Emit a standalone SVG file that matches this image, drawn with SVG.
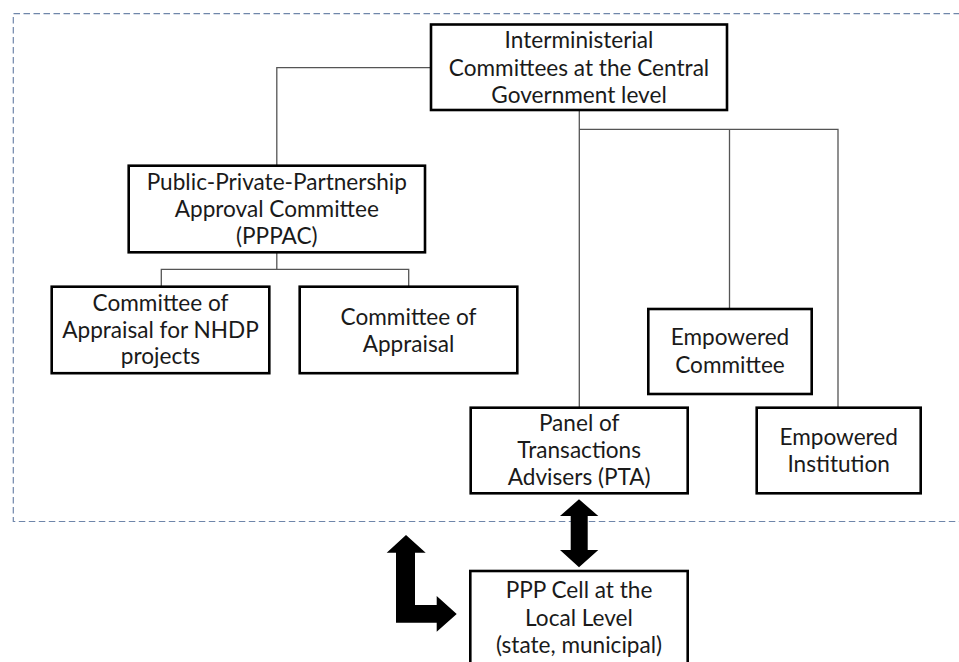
<svg xmlns="http://www.w3.org/2000/svg" width="959" height="662" viewBox="0 0 959 662">
<style>
.box{fill:#fff;stroke:#000;stroke-width:2.6}
.t{font-family:Lato,"Open Sans","Liberation Sans",sans-serif;font-size:22.6px;fill:#1a1a1a;text-anchor:middle}
.c{fill:none;stroke:#555;stroke-width:1.3}
.frame{fill:none;stroke:#6f86aa;stroke-width:1.2;stroke-dasharray:6.5 3.5}
.arr{fill:#000}
</style>
<rect width="959" height="662" fill="#fff"/>
<path class="frame" d="M980 13.7 H13.3 V521.5 H980"/>
<g id="connectors">
<path class="c" d="M431 67.7 H276.8 V165.7"/>
<path class="c" d="M276.8 252.3 V269.3 M161.3 286.7 V269.3 H408.7 V286.7"/>
<path class="c" d="M579.3 110 V407.7 M579.3 129.3 H838 V407.7 M729.5 129.3 V309"/>
<polygon class="arr" points="579,499.3 598.3,516 587.7,516 587.7,550 598.3,550 579,567.3 560,550 570.7,550 570.7,516 560,516"/>
<polygon class="arr" points="406,535 425.7,552.7 415,552.7 415,605 436.7,605 436.7,596 456.7,614 436.7,631.7 436.7,622.7 396,622.7 396,552.7 386.7,552.7"/>
</g>
<g id="n_top">
<rect class="box" x="431" y="24.5" width="296" height="85.5"/>
<text class="t" x="579" y="48">Interministerial</text>
<text class="t" x="579" y="75.5">Committees at the Central</text>
<text class="t" x="579" y="103">Government level</text>
</g>
<g id="n_pppac">
<rect class="box" x="128.7" y="165.7" width="296.3" height="86.6"/>
<text class="t" x="276.8" y="190">Public-Private-Partnership</text>
<text class="t" x="276.8" y="217">Approval Committee</text>
<text class="t" x="276.8" y="244">(PPPAC)</text>
</g>
<g id="n_nhdp">
<rect class="box" x="51.7" y="286.7" width="217.6" height="86.5"/>
<text class="t" x="160.5" y="311">Committee of</text>
<text class="t" x="160.5" y="337.5">Appraisal  for NHDP</text>
<text class="t" x="160.5" y="364">projects</text>
</g>
<g id="n_coa">
<rect class="box" x="299.7" y="286.7" width="217.6" height="86.5"/>
<text class="t" x="408.5" y="325">Committee of</text>
<text class="t" x="408.5" y="351.7">Appraisal</text>
</g>
<g id="n_ec">
<rect class="box" x="648.3" y="309" width="163.4" height="85"/>
<text class="t" x="730" y="345">Empowered</text>
<text class="t" x="730" y="372.7">Committee</text>
</g>
<g id="n_pta">
<rect class="box" x="470.7" y="407.7" width="217" height="85.6"/>
<text class="t" x="579.2" y="431">Panel of</text>
<text class="t" x="579.2" y="457.7">Transactions</text>
<text class="t" x="579.2" y="485">Advisers (PTA)</text>
</g>
<g id="n_ei">
<rect class="box" x="756.7" y="407.7" width="164" height="85.6"/>
<text class="t" x="838.7" y="445">Empowered</text>
<text class="t" x="838.7" y="472.3">Institution</text>
</g>
<g id="n_ppp">
<rect class="box" x="470.3" y="571" width="217.4" height="120"/>
<text class="t" x="579" y="598.3">PPP Cell at the</text>
<text class="t" x="579" y="626">Local Level</text>
<text class="t" x="579" y="653.3">(state, municipal)</text>
</g>
</svg>
